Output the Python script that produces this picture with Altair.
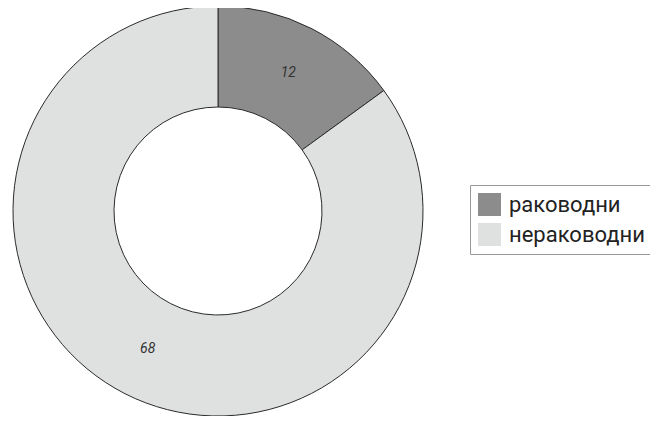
import altair as alt
import pandas as pd

categories = ["раководни", "нераководни"]
values = [12, 68]
colors = ["#8c8c8c", "#dfe1e1"]

df = pd.DataFrame({"category": categories, "value": values, "order": [0, 1]})

base = alt.Chart(df).encode(
    theta=alt.Theta("value:Q", stack=True),
    order=alt.Order("order:Q"),
    x=alt.value(210),
    y=alt.value(203),
)

arcs = base.mark_arc(outerRadius=205, innerRadius=104, stroke="#2a2a2a", strokeWidth=1).encode(
    color=alt.Color(
        "category:N",
        sort=categories,
        scale=alt.Scale(domain=categories, range=colors),
        legend=alt.Legend(
            title=None,
            orient="none",
            legendX=462,
            legendY=177,
            labelFontSize=22,
            labelFont="Roboto",
            labelColor="#222",
            symbolType="square",
            symbolSize=529,
            symbolStrokeWidth=0,
            rowPadding=7,
            strokeColor="#999",
            padding=8,
            labelOffset=8,
            labelLimit=400,
        ),
    )
)

labels = base.mark_text(radius=155, fontSize=14, fontStyle="italic", font="Roboto", color="#333").encode(
    text="value:Q"
)

chart = (arcs + labels).properties(
    width=642, height=408, padding=0,
    autosize=alt.AutoSizeParams(type="none"),
).configure_view(stroke=None)

chart.save("out.html", embed_options={"renderer": "svg", "actions": False})
